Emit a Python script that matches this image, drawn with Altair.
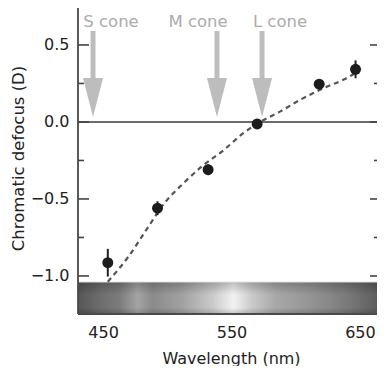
import altair as alt
import pandas as pd

# ---- data ----
pt_wl = [453.7, 492.4, 531.8, 570.0, 618.3, 646.6]
pt_val = [-0.914, -0.56, -0.31, -0.013, 0.245, 0.342]
pt_err = [0.09, 0.045, 0.035, 0.02, 0.025, 0.058]

curve_wl = [453.7, 469.7, 485.3, 495.7, 513.8, 526.8, 543.6, 559.2, 569.6, 587.7, 603.3, 624.1, 639.6, 647.7]
curve_val = [-1.037, -0.875, -0.680, -0.550, -0.388, -0.290, -0.185, -0.073, -0.013, 0.067, 0.143, 0.229, 0.284, 0.325]

cone_names = ["S cone", "M cone", "L cone"]
cone_wl = [442.2, 538.7, 573.8]
cone_label_wl = [456.2, 524.0, 587.8]
arrow_mid = 0.312
label_base = 0.617

x_ticks = [450, 550, 650]
y_major = [0.5, 0.0, -0.5, -1.0]
y_minor = [0.25, -0.25, -0.75]

x_dom = [430.5, 663.3]
y_dom = [-1.247, 0.753]
bar_top = -1.039

spectrum_stops = [(0.00, "#565656"), (0.07, "#6c6c6c"), (0.14, "#7c7c7c"), (0.20, "#a4a4a4"),
                  (0.25, "#8a8a8a"), (0.35, "#a2a2a2"), (0.45, "#cacaca"), (0.52, "#f2f2f2"),
                  (0.58, "#cbcbcb"), (0.66, "#a8a8a8"), (0.79, "#929292"), (0.90, "#7a7a7a"),
                  (1.00, "#5e5e5e")]

FONT = "DejaVu Sans"
W, H = 299, 308

xs = alt.Scale(domain=x_dom, nice=False, zero=False)
ys = alt.Scale(domain=y_dom, nice=False, zero=False)
xaxis = alt.Axis(values=x_ticks, format="d", ticks=False, domain=False, grid=False,
                 labelPadding=10, labelFontSize=16, labelFont=FONT, labelColor="#222",
                 titleFontSize=16, titleFont=FONT, titleColor="#222", titleFontWeight="normal",
                 titleBaseline="alphabetic", titleY=49, titleX=153)
yaxis = alt.Axis(values=y_major, format=".1f", ticks=False, domain=False, grid=False,
                 labelPadding=9, labelFontSize=16, labelFont=FONT, labelColor="#222",
                 titleFontSize=16.5, titleFont=FONT, titleColor="#222", titleFontWeight="normal",
                 titleBaseline="alphabetic", titleX=-55, titleY=152, titleAlign="center", titleAngle=-90)

def X(f):
    return alt.X(f, type="quantitative", scale=xs, axis=xaxis, title="Wavelength (nm)")

def Y(f):
    return alt.Y(f, type="quantitative", scale=ys, axis=yaxis, title="Chromatic defocus (D)")

pts = pd.DataFrame({"wl": pt_wl, "v": pt_val,
                    "lo": [v - e for v, e in zip(pt_val, pt_err)],
                    "hi": [v + e for v, e in zip(pt_val, pt_err)]})
curve = pd.DataFrame({"wl": curve_wl, "v": curve_val})
cones = pd.DataFrame({"name": cone_names, "wl": cone_wl, "lwl": cone_label_wl,
                      "mid": [arrow_mid] * 3, "lb": [label_base] * 3})
bar = pd.DataFrame({"x0": [x_dom[0]], "x1": [x_dom[1]], "y0": [y_dom[0]], "y1": [bar_top]})
major = pd.DataFrame({"v": y_major})
minor = pd.DataFrame({"v": y_minor})
zero = pd.DataFrame({"v": [0.0]})
hframe = pd.DataFrame({"v": [y_dom[0], y_dom[1]]})
vframe = pd.DataFrame({"v": [x_dom[0]]})

grad = alt.Gradient(gradient="linear", x1=0, y1=0, x2=1, y2=0,
                    stops=[alt.GradientStop(offset=o, color=c) for o, c in spectrum_stops])
vgrad = alt.Gradient(gradient="linear", x1=0, y1=0, x2=0, y2=1,
                     stops=[alt.GradientStop(offset=0, color="rgba(0,0,0,0.22)"),
                            alt.GradientStop(offset=0.4, color="rgba(0,0,0,0)"),
                            alt.GradientStop(offset=0.8, color="rgba(0,0,0,0)"),
                            alt.GradientStop(offset=1, color="rgba(0,0,0,0.18)")])

bar_l = alt.Chart(bar).mark_rect(fill=grad, strokeWidth=0).encode(x=X("x0"), x2="x1", y=Y("y0"), y2="y1")
bar_v = alt.Chart(bar).mark_rect(fill=vgrad, strokeWidth=0).encode(x=X("x0"), x2="x1", y=Y("y0"), y2="y1")
bar_edge = alt.Chart(bar).mark_rule(color="#e6e6e6", strokeWidth=1).encode(y=Y("y1"))

zero_l = alt.Chart(zero).mark_rule(color="#3a3a3a", strokeWidth=1.6).encode(y=Y("v"))
hframe_l = alt.Chart(hframe).mark_rule(color="#4a4a4a", strokeWidth=1.8).encode(y=Y("v"))
vframe_l = alt.Chart(vframe).mark_rule(color="#4a4a4a", strokeWidth=1.8).encode(x=X("v"))

lt_major = alt.Chart(major).mark_rule(color="#444", strokeWidth=1.6).encode(
    y=Y("v"), x=alt.value(0), x2=alt.value(11))
lt_minor = alt.Chart(minor).mark_rule(color="#444", strokeWidth=1.6).encode(
    y=Y("v"), x=alt.value(0), x2=alt.value(6))
rt_major = alt.Chart(major).mark_rule(color="#444", strokeWidth=1.6).encode(
    y=Y("v"), x=alt.value(W - 7), x2=alt.value(W))
rt_minor = alt.Chart(minor).mark_rule(color="#444", strokeWidth=1.6).encode(
    y=Y("v"), x=alt.value(W - 3), x2=alt.value(W))

arrow_path = "M-0.058,-1L0.058,-1L0.058,0.093L0.233,0.093L0,1L-0.233,0.093L-0.058,0.093Z"
arrows = alt.Chart(cones).mark_point(shape=arrow_path, filled=True, color="#bdbdbd", opacity=1,
                                     size=7396, strokeWidth=0).encode(x=X("wl"), y=Y("mid"))
labels = alt.Chart(cones).mark_text(font=FONT, fontSize=16.5, color="#ababab", align="center",
                                    baseline="alphabetic").encode(x=X("lwl"), y=Y("lb"), text="name")

line = alt.Chart(curve).mark_line(color="#555", strokeWidth=2.2, strokeDash=[5, 4],
                                  interpolate="monotone").encode(x=X("wl"), y=Y("v"))
err = alt.Chart(pts).mark_rule(color="#222", strokeWidth=2).encode(x=X("wl"), y=Y("lo"), y2="hi")
dots = alt.Chart(pts).mark_circle(color="#1c1c1c", opacity=1, size=120).encode(x=X("wl"), y=Y("v"))

chart = alt.layer(bar_l, bar_v, bar_edge, zero_l, hframe_l, vframe_l, lt_major, lt_minor, rt_major,
                  rt_minor, arrows, labels, line, err, dots).properties(
    width=W, height=H,
    autosize=alt.AutoSizeParams(type="none"),
    padding={"left": 70, "top": -2, "right": 0, "bottom": 52},
).configure_view(stroke=None).configure(background="white")

chart.save("out.html", embed_options={"renderer": "svg", "actions": False})
